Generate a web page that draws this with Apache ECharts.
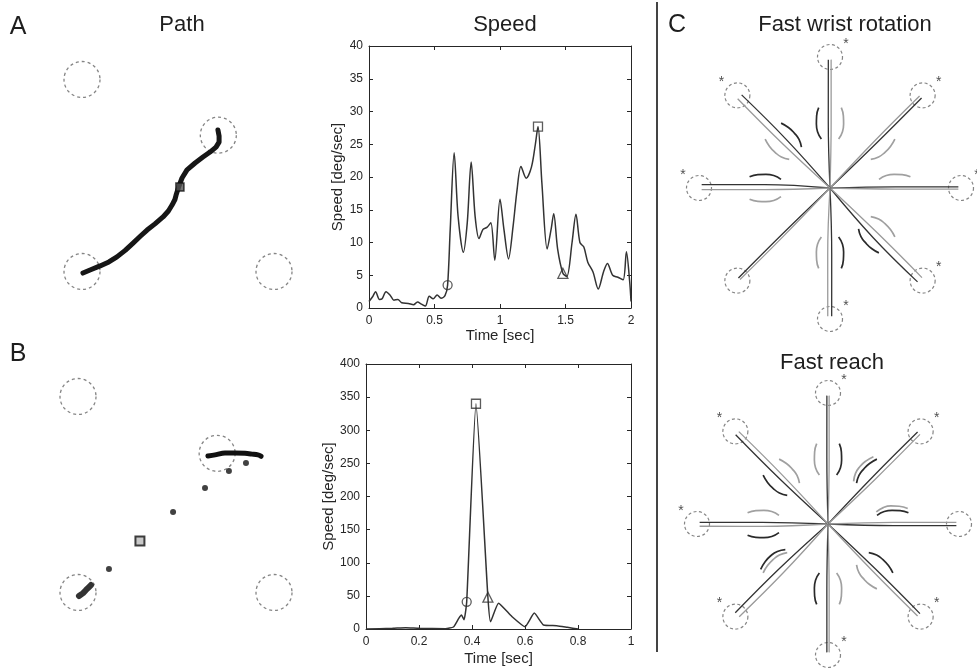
<!DOCTYPE html>
<html><head><meta charset="utf-8">
<script src="https://cdn.jsdelivr.net/npm/echarts@6/dist/echarts.min.js"></script>
<style>html,body{margin:0;padding:0;background:#fff}#c{width:977px;height:668px}</style>
</head><body><div id="c"></div>
<script>
// ---------- Panel A speed ----------
const speedATime  = [0,0.03,0.05,0.08,0.1,0.13,0.16,0.19,0.22,0.25,0.3,0.34,0.37,0.4,0.43,0.46,0.49,0.52,0.55,0.58,0.6,0.62,0.65,0.68,0.72,0.75,0.78,0.81,0.84,0.87,0.9,0.93,0.96,1.0,1.03,1.065,1.1,1.13,1.16,1.2,1.24,1.27,1.29,1.32,1.36,1.39,1.41,1.44,1.48,1.51,1.55,1.58,1.61,1.64,1.67,1.71,1.75,1.79,1.82,1.86,1.9,1.94,1.965,1.99,2.0];
const speedAValue = [1.0,1.8,2.5,1.3,1.4,2.5,2.0,1.2,1.3,0.8,0.7,0.5,0.9,0.6,0.3,1.8,1.4,2.0,1.5,1.9,3.5,12,23.7,14,8.5,13,22.3,14,10.6,12,12.3,13,7.3,16.6,12,7.5,12.5,18,21.6,19.8,21.5,25,27.7,19,9.0,12,14.4,9,5.3,4.8,10,14.3,10,9.3,7,5.5,2.9,5.5,6.8,5.0,4.7,4.3,8.6,4,1];
const speedAOnset = [0.6, 3.5];
const speedAPeak  = [1.29, 27.7];
const speedAEnd   = [1.48, 5.3];
// ---------- Panel B speed ----------
const speedBTime  = [0,0.1,0.15,0.2,0.3,0.33,0.35,0.36,0.37,0.38,0.415,0.46,0.47,0.5,0.55,0.6,0.635,0.67,0.72,0.76,0.8];
const speedBValue = [0,1,2,1,0.5,3,16,21,14,41,340,48,11,39,19,3.5,24,6,5,2.5,0];
const speedBOnset = [0.38, 41];
const speedBPeak  = [0.415, 340];
const speedBEnd   = [0.46, 48];
// ---------- Paths (units: targets at +-5) ----------
const pathTargets = [[-5,5],[2.1,2.1],[-5,-5],[5,-5]];
const pathAX = [-4.95,-4.58,-4.06,-3.60,-3.18,-2.75,-2.34,-1.95,-1.61,-1.20,-0.78,-0.50,-0.31,-0.16,-0.10,0.05,0.21,0.47,0.89,1.30,1.67,1.98,2.14,2.14,2.08];
const pathAY = [-5.08,-4.92,-4.71,-4.50,-4.24,-3.90,-3.52,-3.15,-2.84,-2.52,-2.16,-1.85,-1.54,-1.25,-1.02,-0.55,-0.13,0.29,0.65,0.96,1.22,1.48,1.74,2.06,2.37];
const pathAMark = [0.10,-0.60];
const pathBClusterX = [-4.95,-4.74,-4.59,-4.44,-4.34];
const pathBClusterY = [-5.18,-5.03,-4.87,-4.72,-4.62];
const pathBDotsX = [-3.42,-0.15,1.48,2.70,3.57];
const pathBDotsY = [-3.80,-0.89,0.33,1.20,1.61];
const pathBMark = [-1.84,-2.37];
const pathBTraceX = [1.63,1.99,2.50,3.01,3.52,3.88,4.18,4.34];
const pathBTraceY = [1.96,2.02,2.12,2.12,2.10,2.06,2.02,1.95];
// ---------- Panel C (polar: [radius, angle deg]) ----------
const directions = [90,45,0,-45,-90,-135,180,135];
const wristDarkBend  = [1.5,-1,1,-4,1.5,-1,-3,-3];
const wristLightBend = [-1,1.5,-1,1.5,-2,1,1.5,2];
const reachDarkBend  = [1,1.5,-1.5,1.5,-1,-2.5,-1.5,2];
const reachLightBend = [-1,-1.5,1.5,-1.5,1,2.5,2,-2];
// arcs: [direction, side(+1 ccw / -1 cw), tone(1 dark / 0 light), layer(0 inner / 1 outer)]
const wristArcs = [[90,1,1,0],[90,-1,0,0],[45,-1,0,0],[0,1,0,0],[-45,1,0,0],[-45,-1,1,0],[-90,-1,0,0],[-90,1,1,0],[180,-1,1,0],[180,1,0,0],[135,-1,1,0],[135,1,0,0]];
const reachArcs = [[90,1,0,0],[90,-1,1,0],[45,1,1,0],[45,1,0,1],[0,1,1,0],[0,1,0,1],[-45,1,1,0],[-45,-1,0,0],[-90,-1,1,0],[-90,1,0,0],[-135,-1,0,0],[-135,-1,1,1],[180,-1,0,0],[180,1,1,0],[135,-1,0,0],[135,1,1,0]];
const arcShapeInner = [[0.38,10],[0.44,12.5],[0.50,12],[0.56,10.5],[0.62,8]];
const arcShapeOuter = [[0.38,14],[0.44,16.5],[0.50,16],[0.56,14],[0.62,11]];
// stars: [direction, side(+1 right / -1 left)]
const wristStars = [[90,1],[45,1],[0,1],[-45,1],[-90,1],[180,-1],[135,-1]];
const reachStars = [[90,1],[45,1],[-45,1],[-90,1],[-135,-1],[180,-1],[135,-1]];

const FONT = 'Liberation Sans, Arial, Helvetica, sans-serif';
const INK = '#262626';
function norm(a){ return ((a % 360) + 360) % 360; }
function zip(a,b){ return a.map((v,i)=>[v,b[i]]); }

const chart = echarts.init(document.getElementById('c'), null, {renderer:'canvas'});

function speedAxes(gi, xmax, xint, ymax, yint, ygap, xgap){
  const base = {gridIndex:gi, type:'value', splitLine:{show:false},
    axisLine:{show:true,onZero:false,lineStyle:{color:INK,width:1}},
    axisTick:{show:true,inside:true,length:4,lineStyle:{color:INK}}};
  return {
    x:[Object.assign({},base,{min:0,max:xmax,interval:xint,position:'bottom',
        axisLabel:{color:INK,fontSize:12,fontFamily:FONT,margin:7},
        name:'Time [sec]',nameLocation:'middle',nameGap:xgap,
        nameTextStyle:{color:INK,fontSize:15,fontFamily:FONT}}),
       Object.assign({},base,{min:0,max:xmax,interval:xint,position:'top',axisLabel:{show:false}})],
    y:[Object.assign({},base,{min:0,max:ymax,interval:yint,position:'left',
        axisLabel:{color:INK,fontSize:12,fontFamily:FONT,margin:6},
        name:'Speed [deg/sec]',nameLocation:'middle',nameGap:ygap,
        nameTextStyle:{color:INK,fontSize:15,fontFamily:FONT}}),
       Object.assign({},base,{min:0,max:ymax,interval:yint,position:'right',axisLabel:{show:false}})]
  };
}
const aAx = speedAxes(0,2,0.5,40,5,24,17);
const bAx = speedAxes(1,1,0.2,400,50,27,22);
const hiddenAx = (gi)=>({gridIndex:gi,type:'value',min:-7,max:7,show:false});

const series = [];
// speed curves
series.push({type:'line',xAxisIndex:0,yAxisIndex:0,data:zip(speedATime,speedAValue),showSymbol:false,smooth:0.3,
  lineStyle:{color:'#333',width:1.5},silent:true});
series.push({type:'line',xAxisIndex:2,yAxisIndex:2,data:zip(speedBTime,speedBValue),showSymbol:false,smooth:0.15,
  lineStyle:{color:'#333',width:1.5},silent:true});
const mk = (xi,yi,pt,sym)=>({type:'scatter',xAxisIndex:xi,yAxisIndex:yi,data:[pt],symbol:sym,symbolSize:sym==='triangle'?10:9,
  itemStyle:{color:'rgba(255,255,255,0)',borderColor:'#333',borderWidth:1.3},z:5});
series.push(mk(0,0,speedAOnset,'circle'),mk(0,0,speedAPeak,'rect'),mk(0,0,speedAEnd,'triangle'));
series.push(mk(2,2,speedBOnset,'circle'),mk(2,2,speedBPeak,'rect'),mk(2,2,speedBEnd,'triangle'));

// paths
[4,5].forEach(ix=>{
  series.push({type:'scatter',xAxisIndex:ix,yAxisIndex:ix,data:pathTargets,symbol:'circle',symbolSize:36,
    itemStyle:{color:'rgba(255,255,255,0)',borderColor:'#666',borderWidth:1.3,borderType:[3,3]}});
});
series.push({type:'line',xAxisIndex:4,yAxisIndex:4,data:zip(pathAX,pathAY),showSymbol:false,smooth:false,
  lineStyle:{color:'#161616',width:5,cap:'round',join:'round'}});
series.push({type:'scatter',xAxisIndex:4,yAxisIndex:4,data:[pathAMark],symbol:'rect',symbolSize:8,
  itemStyle:{color:'#555',borderColor:'#111',borderWidth:1.5},z:5});
series.push({type:'line',xAxisIndex:5,yAxisIndex:5,data:zip(pathBClusterX,pathBClusterY),showSymbol:false,
  lineStyle:{color:'#333',width:6,cap:'round'}});
series.push({type:'scatter',xAxisIndex:5,yAxisIndex:5,data:zip(pathBDotsX,pathBDotsY),symbol:'circle',symbolSize:6,
  itemStyle:{color:'#111'}});
series.push({type:'scatter',xAxisIndex:5,yAxisIndex:5,data:[pathBMark],symbol:'rect',symbolSize:9,
  itemStyle:{color:'#bbb',borderColor:'#111',borderWidth:2},z:5});
series.push({type:'line',xAxisIndex:5,yAxisIndex:5,data:zip(pathBTraceX,pathBTraceY),showSymbol:false,smooth:0.3,
  lineStyle:{color:'#111',width:5,cap:'round'}});

// panel C
function starPanel(pi, darkBend, lightBend, arcs, stars){
  series.push({type:'scatter',coordinateSystem:'polar',polarIndex:pi,data:directions.map(d=>[1,norm(d)]),
    symbol:'circle',symbolSize:25,itemStyle:{color:'rgba(255,255,255,0)',borderColor:'#666',borderWidth:1.2,borderType:[3,2.5]}});
  directions.forEach((d,i)=>{
    [[darkBend[i],'#333'],[lightBend[i],'#9a9a9a']].forEach(([b,c])=>{
      series.push({type:'line',coordinateSystem:'polar',polarIndex:pi,showSymbol:false,smooth:0.4,
        data:[[0,norm(d)],[0.5,norm(d+b)],[0.98,norm(d+b*0.5)]],lineStyle:{color:c,width:1.3}});
    });
  });
  arcs.forEach(([d,s,tone,layer])=>{
    const shape = layer ? arcShapeOuter : arcShapeInner;
    series.push({type:'line',coordinateSystem:'polar',polarIndex:pi,showSymbol:false,smooth:0.5,
      data:shape.map(([r,a])=>[r,norm(d+s*a)]),lineStyle:{color:tone?'#2a2a2a':'#a0a0a0',width:1.7}});
  });
  series.push({type:'scatter',coordinateSystem:'polar',polarIndex:pi,symbolSize:1,
    itemStyle:{color:'rgba(0,0,0,0)'},
    data:stars.map(([d,s])=>({value:[1,norm(d)],label:{offset:[s*16,-13]}})),
    label:{show:true,formatter:'*',position:'inside',fontSize:14,color:'#222',fontFamily:FONT}});
}
starPanel(0, wristDarkBend, wristLightBend, wristArcs, wristStars);
starPanel(1, reachDarkBend, reachLightBend, reachArcs, reachStars);

const txt = (t,x,y,size,align)=>({type:'text',x:x,y:y,silent:true,
  style:{text:t,font:size+'px '+FONT,fill:'#1e1e1e',textAlign:align||'center',textVerticalAlign:'middle'}});

chart.setOption({
  animation:false,
  backgroundColor:'#fff',
  grid:[
    {left:369,top:46,width:262,height:262},
    {left:366,top:364,width:265,height:265},
    {left:43.6,top:41.1,width:268.8,height:268.8},
    {left:38.8,top:357.3,width:274.4,height:274.4}
  ],
  xAxis:[aAx.x[0],aAx.x[1],bAx.x[0],bAx.x[1],hiddenAx(2),hiddenAx(3)],
  yAxis:[aAx.y[0],aAx.y[1],bAx.y[0],bAx.y[1],hiddenAx(2),hiddenAx(3)],
  polar:[{center:[830,188],radius:170.3},{center:[828,524],radius:170.3}],
  angleAxis:[{polarIndex:0,type:'value',min:0,max:360,startAngle:0,clockwise:false,show:false},
             {polarIndex:1,type:'value',min:0,max:360,startAngle:0,clockwise:false,show:false}],
  radiusAxis:[{polarIndex:0,type:'value',min:0,max:1.3,show:false},
              {polarIndex:1,type:'value',min:0,max:1.3,show:false}],
  graphic:[
    {type:'line',shape:{x1:657,y1:2,x2:657,y2:652},style:{stroke:'#444',lineWidth:2},silent:true},
    txt('A',18,27,25), txt('Path',182,25,22), txt('Speed',505,25,22),
    txt('B',18,354,25),
    txt('C',677,25,25), txt('Fast wrist rotation',845,25,22), txt('Fast reach',832,363,22)
  ],
  series:series
});
</script></body></html>
